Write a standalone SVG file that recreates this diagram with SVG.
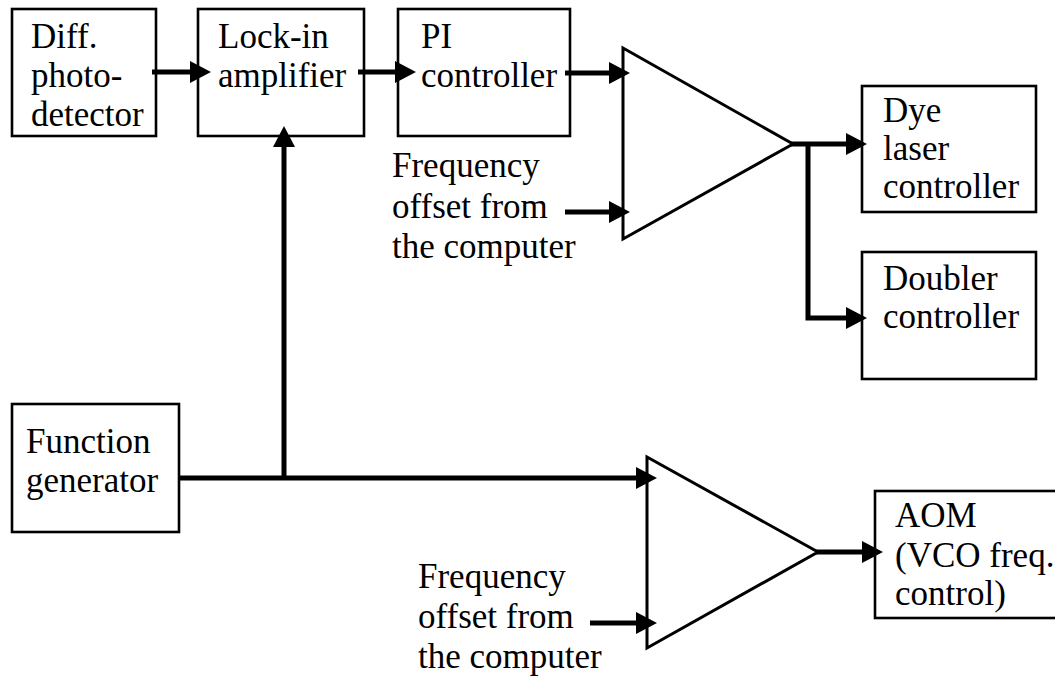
<svg xmlns="http://www.w3.org/2000/svg" width="1055" height="677" viewBox="0 0 1055 677">
<style>
.box{fill:#fff;stroke:#000;stroke-width:2.6}
.amp{fill:#fff;stroke:#000;stroke-width:3}
.wire{fill:none;stroke:#000;stroke-width:5}
text{font-family:"Liberation Serif","Times New Roman",serif;font-size:35px;fill:#000}
</style>
<defs>
<marker id="ah" markerUnits="userSpaceOnUse" markerWidth="22" markerHeight="24" refX="5" refY="11" orient="auto" overflow="visible">
<path d="M0,0 L21,11 L0,22 Z" fill="#000"/>
</marker>
</defs>
<rect width="1055" height="677" fill="#fff"/>
<g id="diff">
<rect class="box" x="12" y="9" width="144" height="127"/>
<text x="31" y="48">Diff.</text>
<text x="31" y="87">photo-</text>
<text x="31" y="126">detector</text>
</g>
<g id="lockin">
<rect class="box" x="198" y="9" width="166" height="127"/>
<text x="218" y="48">Lock-in</text>
<text x="218" y="87">amplifier</text>
</g>
<g id="pi">
<rect class="box" x="398" y="9" width="172" height="127"/>
<text x="421" y="48">PI</text>
<text x="421" y="87">controller</text>
</g>
<g id="amp1">
<polygon class="amp" points="623,48 623,239 793,144"/>
</g>
<g id="freq1">
<text x="392" y="177">Frequency</text>
<text x="392" y="218">offset from</text>
<text x="392" y="258">the computer</text>
</g>
<g id="dye">
<rect class="box" x="862" y="86" width="174" height="126"/>
<text x="883" y="122">Dye</text>
<text x="883" y="160">laser</text>
<text x="883" y="198">controller</text>
</g>
<g id="doubler">
<rect class="box" x="862" y="252" width="174" height="127"/>
<text x="883" y="290">Doubler</text>
<text x="883" y="328">controller</text>
</g>
<g id="funcgen">
<rect class="box" x="12" y="404" width="167" height="128"/>
<text x="26" y="453">Function</text>
<text x="26" y="492">generator</text>
</g>
<g id="amp2">
<polygon class="amp" points="647,457 647,648 818,552"/>
</g>
<g id="freq2">
<text x="418" y="588">Frequency</text>
<text x="418" y="628">offset from</text>
<text x="418" y="668">the computer</text>
</g>
<g id="aom">
<rect class="box" x="875" y="491" width="190" height="127"/>
<text x="895" y="527">AOM</text>
<text x="895" y="567">(VCO freq.</text>
<text x="895" y="605">control)</text>
</g>
<g id="connectors">
<line class="wire" x1="152" y1="72" x2="195" y2="72" marker-end="url(#ah)"/>
<line class="wire" x1="358" y1="72" x2="400" y2="72" marker-end="url(#ah)"/>
<line class="wire" x1="565" y1="73" x2="614" y2="73" marker-end="url(#ah)"/>
<line class="wire" x1="565" y1="212" x2="614" y2="212" marker-end="url(#ah)"/>
<line class="wire" x1="791" y1="144" x2="851" y2="144" marker-end="url(#ah)"/>
<path class="wire" d="M808,144 V318 H851" marker-end="url(#ah)"/>
<line class="wire" x1="179" y1="478" x2="641" y2="478" marker-end="url(#ah)"/>
<line class="wire" x1="284" y1="480" x2="284" y2="142" marker-end="url(#ah)"/>
<line class="wire" x1="590" y1="623" x2="641" y2="623" marker-end="url(#ah)"/>
<line class="wire" x1="816" y1="552" x2="867" y2="552" marker-end="url(#ah)"/>
</g>
</svg>
